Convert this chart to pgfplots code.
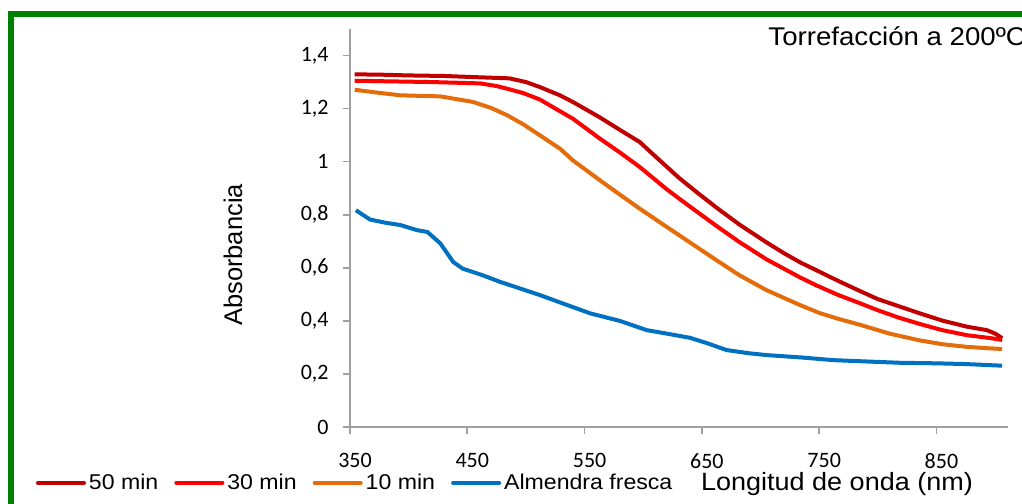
\documentclass[border=0pt]{standalone}
\usepackage{fontspec}
\usepackage{pgfplots}
\pgfplotsset{compat=1.18}
\usepackage{pgfplotstable}

\setmainfont{Liberation Sans}
\newfontfamily\labfont[FakeStretch=1.08]{Liberation Sans}
\newfontfamily\tickfont{Carlito}

\definecolor{c50}{HTML}{C00000}
\definecolor{c30}{HTML}{FF0000}
\definecolor{c10}{HTML}{E46C0A}
\definecolor{cfr}{HTML}{0070C0}
\definecolor{axgray}{RGB}{160,160,160}
\definecolor{frame}{RGB}{0,128,0}

% Absorbance spectra (wavelength in nm, absorbance)
\pgfplotstableread{
x y
354 1.329
375 1.328
400 1.325
430 1.323
460 1.318
486 1.314
500 1.300
512 1.281
529 1.250
540 1.225
563 1.167
580 1.120
597 1.074
614 1.005
631 0.937
647 0.880
663 0.825
682 0.763
705 0.696
720 0.655
734 0.620
748 0.590
766 0.551
785 0.512
800 0.482
818 0.455
836 0.428
855 0.401
876 0.378
893 0.365
900 0.352
906 0.335
}\tmin

\pgfplotstableread{
x y
354 1.305
380 1.303
420 1.300
461 1.295
475 1.285
484 1.275
498 1.258
512 1.234
529 1.190
540 1.162
563 1.087
580 1.035
597 0.980
620 0.896
640 0.830
663 0.756
682 0.697
705 0.632
734 0.563
748 0.533
766 0.498
785 0.466
800 0.440
818 0.412
836 0.388
855 0.365
876 0.346
896 0.335
906 0.328
}\ttmin

\pgfplotstableread{
x y
354 1.271
370 1.262
393 1.250
427 1.246
455 1.225
470 1.203
484 1.175
498 1.140
512 1.099
529 1.049
540 1.005
563 0.930
580 0.876
597 0.823
620 0.754
640 0.695
663 0.627
682 0.572
705 0.516
734 0.459
750 0.430
766 0.408
785 0.385
810 0.352
835 0.327
855 0.312
876 0.302
893 0.297
906 0.294
}\tdmin

\pgfplotstableread{
x y
355 0.817
367 0.782
380 0.770
393 0.761
407 0.742
416 0.735
427 0.692
438 0.622
446 0.597
463 0.572
478 0.547
495 0.522
512 0.497
535 0.460
555 0.428
580 0.400
603 0.365
620 0.352
640 0.336
655 0.315
671 0.290
690 0.278
705 0.271
735 0.262
762 0.252
790 0.247
819 0.242
850 0.240
876 0.237
906 0.231
}\tfresca

\begin{document}
\begin{tikzpicture}
\useasboundingbox (0pt,0pt) rectangle (511pt,251.5pt);
\clip (0pt,0pt) rectangle (511pt,251.5pt);

% green frame
\draw[frame, line width=2.9pt] (5.5pt,-20pt) -- (5.5pt,244.6pt) -- (540pt,244.6pt);

\begin{axis}[
  at={(175pt,38pt)}, anchor=south west,
  scale only axis, width=329pt, height=199pt,
  xmin=350, xmax=911, ymin=0, ymax=1.5,
  axis x line*=bottom, axis y line*=left,
  axis line style={draw=axgray, line width=0.8pt},
  xtick={350,450,550,650,750,850},
  ytick={0,0.2,0.4,0.6,0.8,1,1.2,1.4},
  tick align=outside, major tick length=3.5pt,
  tick style={draw=axgray, line width=0.8pt},
  /pgf/number format/.cd, use comma, assume math mode=true, set thousands separator={},
  /pgfplots/.cd,
  yticklabel style={font=\tickfont\fontsize{11}{13}\selectfont, anchor=east, inner sep=0pt, xshift=-7pt},
  xticklabel style={font=\tickfont\fontsize{11}{13}\selectfont, anchor=north, inner sep=0pt, yshift=-9.5pt, xshift=2.5pt},
  legend columns=4,
  legend cell align=left,
  legend style={
    at={(0,0)}, anchor=west, xshift=-157pt, yshift=-27.9pt,
    draw=none, fill=none, inner sep=0pt, outer sep=0pt,
    font=\labfont\fontsize{10.7}{12}\selectfont,
    nodes={inner sep=0pt},
    column sep=1.5pt,
    /tikz/every even column/.append style={column sep=8pt},
  },
  legend image code/.code={\draw[#1, line width=2pt, line cap=round] (0pt,0pt) -- (23pt,0pt);},
]
\addplot[c50, line width=2pt, line join=round] table[x=x,y=y] {\tmin};
\addlegendentry{50 min}
\addplot[c30, line width=2pt, line join=round] table[x=x,y=y] {\ttmin};
\addlegendentry{30 min}
\addplot[c10, line width=2pt, line join=round] table[x=x,y=y] {\tdmin};
\addlegendentry{10 min}
\addplot[cfr, line width=2pt, line join=round] table[x=x,y=y] {\tfresca};
\addlegendentry{Almendra fresca}
\end{axis}

% labels and title
\node[anchor=base west, inner sep=0pt, font=\labfont\fontsize{12.8}{14}\selectfont] at (384pt,228.5pt) {Torrefacción a 200ºC};
\node[anchor=base, inner sep=0pt, font=\labfont\fontsize{12.5}{14}\selectfont] at (418.5pt,6pt) {Longitud de onda (nm)};
\node[rotate=90, inner sep=0pt, font=\fontsize{12.75}{14}\selectfont] at (116.5pt,124pt) {Absorbancia};
\end{tikzpicture}
\end{document}
